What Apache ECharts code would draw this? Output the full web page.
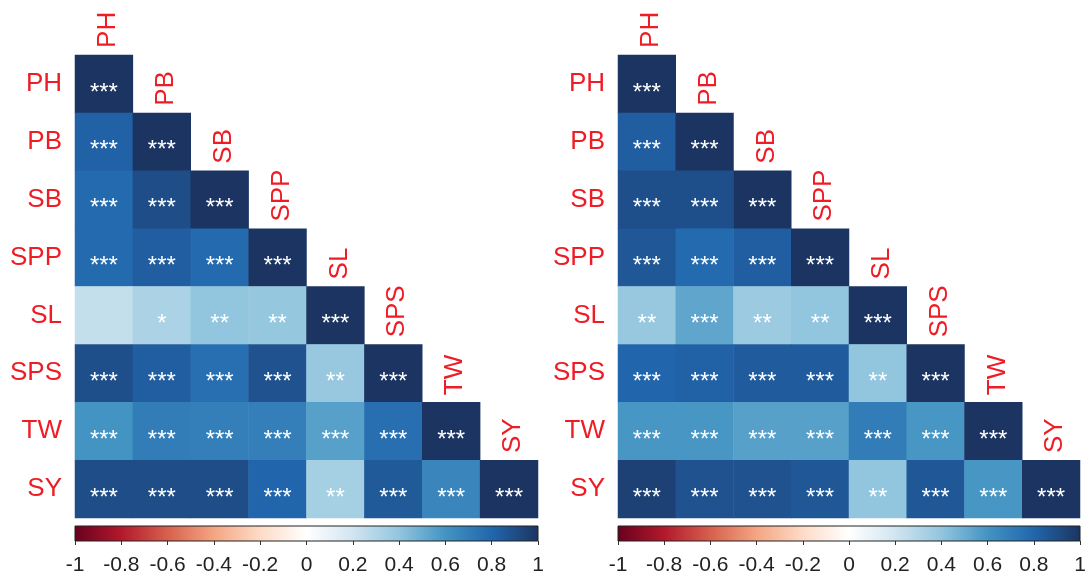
<!DOCTYPE html>
<html>
<head>
<meta charset="utf-8">
<script src="https://cdn.jsdelivr.net/npm/echarts@6/dist/echarts.min.js"></script>
<style>
html,body{margin:0;padding:0;background:#fff;}
#chart{width:1090px;height:579px;}
</style>
</head>
<body>
<div id="chart"></div>
<script>
// ---------- data ----------
const categories = ['PH', 'PB', 'SB', 'SPP', 'SL', 'SPS', 'TW', 'SY'];
const colorbarTicks = [-1, -0.8, -0.6, -0.4, -0.2, 0, 0.2, 0.4, 0.6, 0.8, 1];
const palette = ['#67001F', '#B2182B', '#D6604D', '#F4A582', '#FDDBC7', '#FFFFFF',
                 '#D1E5F0', '#92C5DE', '#4393C3', '#2166AC', '#1c3461'];

// lower-triangle correlations, row by row (row i has i+1 values)
const leftValues = [
  [1],
  [0.82, 1],
  [0.78, 0.90, 1],
  [0.78, 0.83, 0.78, 1],
  [0.24, 0.32, 0.40, 0.39, 1],
  [0.89, 0.83, 0.76, 0.88, 0.38, 1],
  [0.60, 0.70, 0.69, 0.69, 0.55, 0.76, 1],
  [0.90, 0.90, 0.90, 0.80, 0.34, 0.85, 0.66, 1]
];
const leftStars = [
  ['***'],
  ['***', '***'],
  ['***', '***', '***'],
  ['***', '***', '***', '***'],
  ['', '*', '**', '**', '***'],
  ['***', '***', '***', '***', '**', '***'],
  ['***', '***', '***', '***', '***', '***', '***'],
  ['***', '***', '***', '***', '**', '***', '***', '***']
];
const rightValues = [
  [1],
  [0.83, 1],
  [0.89, 0.89, 1],
  [0.86, 0.78, 0.83, 1],
  [0.38, 0.53, 0.37, 0.40, 1],
  [0.80, 0.82, 0.84, 0.84, 0.40, 1],
  [0.59, 0.59, 0.55, 0.55, 0.70, 0.59, 1],
  [0.95, 0.88, 0.88, 0.86, 0.40, 0.86, 0.59, 1]
];
const rightStars = [
  ['***'],
  ['***', '***'],
  ['***', '***', '***'],
  ['***', '***', '***', '***'],
  ['**', '***', '**', '**', '***'],
  ['***', '***', '***', '***', '**', '***'],
  ['***', '***', '***', '***', '***', '***', '***'],
  ['***', '***', '***', '***', '**', '***', '***', '***']
];

// ---------- build ----------
function toHeat(vals, stars) {
  const out = [];
  vals.forEach((row, i) => row.forEach((v, j) => out.push([j, i, v, stars[i][j]])));
  return out;
}
const diag = categories.map((c, i) => [i, i, c]);

const FONT = 'Liberation Sans, Arial, sans-serif';
const RED = '#ee1c25';
const panels = [
  {left: 75, width: 463, vals: leftValues, stars: leftStars},
  {left: 618, width: 462, vals: rightValues, stars: rightStars}
];

const grid = [], xAxis = [], yAxis = [], series = [];
panels.forEach((p, k) => {
  grid.push({left: p.left, width: p.width, top: 55, height: 463});
  grid.push({left: p.left, width: p.width, top: 526, height: 15});
  const g = 2 * k, gc = 2 * k + 1;
  xAxis.push({gridIndex: g, type: 'category', data: categories, show: false});
  yAxis.push({gridIndex: g, type: 'category', data: categories, inverse: true,
    axisLine: {show: false}, axisTick: {show: false}, splitLine: {show: false},
    axisLabel: {color: RED, fontSize: 26, fontFamily: FONT, margin: 13}});
  xAxis.push({gridIndex: gc, type: 'value', min: -1, max: 1, interval: 0.2,
    axisLine: {show: false}, splitLine: {show: false},
    axisTick: {show: true, length: 4, lineStyle: {color: '#333', width: 1}},
    axisLabel: {color: '#222', fontSize: 21, fontFamily: FONT, margin: 14,
      formatter: v => String(Math.round(v * 10) / 10)}});
  yAxis.push({gridIndex: gc, type: 'value', min: 0, max: 1, show: false});

  series.push({
    type: 'heatmap', xAxisIndex: g, yAxisIndex: g,
    data: toHeat(p.vals, p.stars),
    label: {show: true, color: '#fff', fontSize: 24, fontFamily: FONT, offset: [0, 9],
      formatter: pr => pr.data[3]},
    itemStyle: {borderWidth: 0},
    emphasis: {disabled: true}
  });
  series.push({
    type: 'scatter', xAxisIndex: g, yAxisIndex: g, data: diag, clip: false,
    symbol: 'rect', symbolSize: [57, 58],
    itemStyle: {color: 'rgba(0,0,0,0)', opacity: 1}, silent: true,
    label: {show: true, position: 'top', distance: 9, rotate: 90, align: 'left',
      verticalAlign: 'middle', color: RED, opacity: 1, fontSize: 26, fontFamily: FONT,
      offset: [-2, 4], formatter: pr => pr.data[2]}
  });
  series.push({
    type: 'custom', xAxisIndex: gc, yAxisIndex: gc, data: [[-1, 1]], silent: true,
    renderItem: (params, api) => {
      const a = api.coord([api.value(0), 0]);
      const b = api.coord([api.value(1), 1]);
      return {
        type: 'rect',
        shape: {x: a[0], y: b[1], width: b[0] - a[0], height: a[1] - b[1]},
        style: {
          fill: new echarts.graphic.LinearGradient(0, 0, 1, 0,
            palette.map((c, i) => ({offset: i / (palette.length - 1), color: c}))),
          stroke: '#222', lineWidth: 1
        }
      };
    }
  });
});

const chart = echarts.init(document.getElementById('chart'));
chart.setOption({
  animation: false,
  backgroundColor: '#fff',
  grid, xAxis, yAxis,
  visualMap: {show: false, type: 'continuous', min: -1, max: 1, dimension: 2,
    seriesIndex: [0, 3], inRange: {color: palette}},
  series
});
</script>
</body>
</html>
